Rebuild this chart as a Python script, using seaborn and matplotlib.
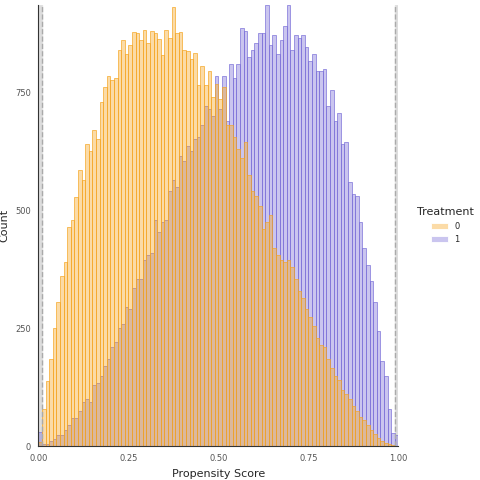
import numpy as np
import pandas as pd
import matplotlib
matplotlib.use("Agg")
import matplotlib.pyplot as plt
import seaborn as sns

bin_left = np.round(np.arange(0, 1, 0.01), 2)

control = [10, 80, 138, 185, 250, 305, 360, 390, 465, 480,
           527, 585, 565, 640, 625, 670, 650, 730, 760, 785,
           775, 780, 840, 860, 830, 850, 878, 875, 860, 882,
           855, 880, 875, 862, 828, 882, 865, 930, 875, 878,
           840, 838, 820, 832, 765, 805, 765, 795, 740, 768,
           735, 760, 680, 680, 655, 630, 610, 645, 575, 540,
           530, 510, 460, 475, 490, 420, 405, 395, 390, 395,
           380, 355, 330, 315, 290, 275, 255, 230, 215, 210,
           185, 165, 150, 140, 120, 110, 100, 85, 75, 62,
           55, 45, 35, 27, 18, 12, 8, 5, 3, 1]

treated = [30, 5, 5, 12, 15, 25, 25, 35, 45, 60,
           60, 75, 95, 100, 95, 130, 135, 150, 170, 185,
           210, 220, 250, 260, 295, 290, 335, 355, 355, 395,
           405, 410, 480, 455, 475, 480, 540, 565, 550, 615,
           605, 635, 625, 650, 655, 680, 720, 715, 700, 785,
           715, 785, 690, 810, 780, 810, 885, 880, 825, 840,
           855, 875, 875, 935, 850, 870, 830, 860, 890, 935,
           840, 870, 865, 870, 845, 815, 830, 795, 795, 800,
           720, 755, 690, 705, 640, 645, 560, 535, 530, 475,
           420, 385, 350, 305, 245, 180, 150, 80, 28, 25]

df = pd.DataFrame({
    "score": np.concatenate([bin_left + 0.005, bin_left + 0.005]),
    "count": control + treated,
    "Treatment": ["0"] * 100 + ["1"] * 100,
})

sns.set_style("white")
fig, ax = plt.subplots(figsize=(4.8, 4.8), dpi=100)

ax.axvspan(0, 0.01, color="#dddddd", zorder=0)
ax.axvspan(0.99, 1.0, color="#dddddd", zorder=0)

sns.histplot(data=df, x="score", weights="count", hue="Treatment",
             binwidth=0.01, binrange=(0, 1), multiple="layer",
             palette={"0": "#F5A623", "1": "#7B6FD8"}, alpha=0.4,
             linewidth=0.6, ax=ax)
for p in ax.patches:
    fc = p.get_facecolor()
    p.set_edgecolor((fc[0], fc[1], fc[2], 0.8))

ax.axvline(0.01, color="#aaaaaa", ls="--", lw=1)
ax.axvline(0.99, color="#aaaaaa", ls="--", lw=1)

ax.set_xlim(0, 1)
ax.set_ylim(0, 935)
ax.set_xticks([0, 0.25, 0.5, 0.75, 1.0])
ax.set_xticklabels(["0.00", "0.25", "0.50", "0.75", "1.00"])
ax.set_yticks([0, 250, 500, 750])
ax.tick_params(labelsize=6, colors="#555555", length=2)
ax.set_xlabel("Propensity Score", fontsize=8)
ax.set_ylabel("Count", fontsize=8)
sns.despine(ax=ax)
for s in ["left", "bottom"]:
    ax.spines[s].set_color("#333333")

sns.move_legend(ax, "center left", bbox_to_anchor=(1.03, 0.5), frameon=False,
                fontsize=6, title_fontsize=8)

plt.subplots_adjust(left=0.08, right=0.83, bottom=0.07, top=0.99)
plt.savefig("out.png", dpi=100)
